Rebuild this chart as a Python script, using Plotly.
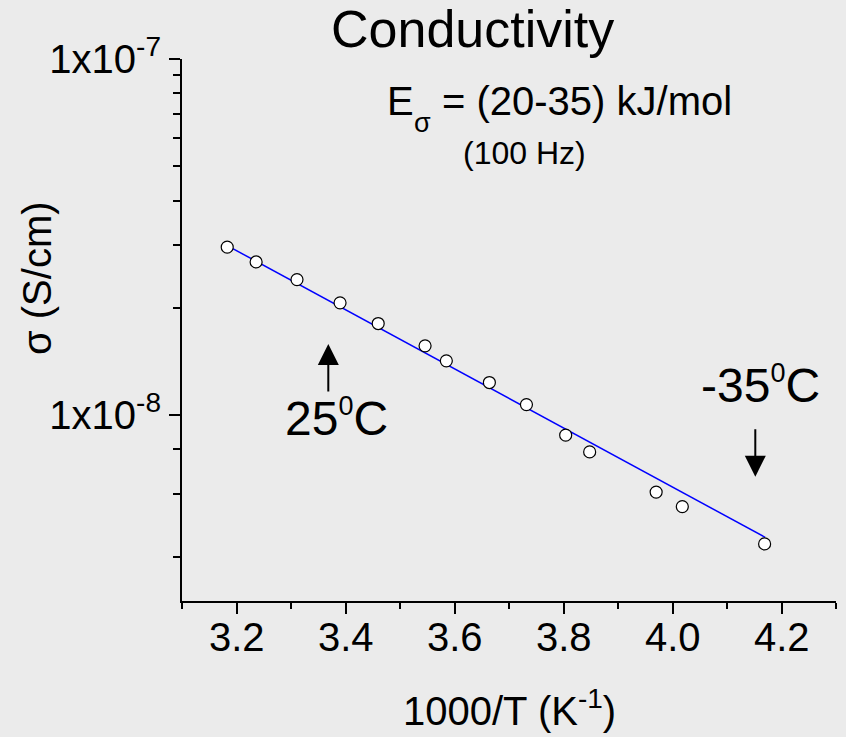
import plotly.graph_objects as go

# Measured conductivity (100 Hz) versus inverse temperature
inv_T = [3.183, 3.236, 3.311, 3.390, 3.460, 3.546, 3.585, 3.664,
         3.732, 3.804, 3.848, 3.970, 4.018, 4.169]
sigma = [2.96e-8, 2.69e-8, 2.40e-8, 2.065e-8, 1.806e-8, 1.563e-8, 1.419e-8,
         1.233e-8, 1.069e-8, 8.77e-9, 7.87e-9, 6.07e-9, 5.525e-9, 4.34e-9]

# Arrhenius fit line (end points)
fit_x = [3.183, 4.170]
fit_y = [2.99e-8, 4.53e-9]

x_ticks = [3.2, 3.4, 3.6, 3.8, 4.0, 4.2]
x_ticklabels = ["3.2", "3.4", "3.6", "3.8", "4.0", "4.2"]
x_minor = [3.1, 3.3, 3.5, 3.7, 3.9, 4.1, 4.3]
y_ticks = [1e-8, 1e-7]
y_ticklabels = ["1x10<sup>-8</sup>", "1x10<sup>-7</sup>"]
y_minor = [4e-9, 6e-9, 8e-9, 2e-8, 3e-8, 4e-8, 5e-8, 6e-8, 7e-8, 8e-8, 9e-8]

FONT = "Arial, 'Liberation Sans', sans-serif"
BG = "#ebebeb"
W, H = 846, 737
L, R, T, B = 182, 836, 59, 601


def px(xpix):
    return (xpix - L) / (R - L)


def py(ypix):
    return (B - ypix) / (B - T)


fig = go.Figure()
fig.add_trace(go.Scatter(x=fit_x, y=fit_y, mode="lines",
                         line=dict(color="#0000ff", width=1.5),
                         hoverinfo="skip"))
fig.add_trace(go.Scatter(x=inv_T, y=sigma, mode="markers",
                         marker=dict(symbol="circle", size=12, color="white",
                                     line=dict(color="black", width=1.2))))

axis_common = dict(showline=True, linecolor="black", linewidth=2,
                   ticks="outside", tickcolor="black", tickwidth=1.5, ticklen=11,
                   showgrid=False, zeroline=False, mirror=False,
                   tickfont=dict(family=FONT, size=40, color="black"))

# x tick labels are placed as annotations (closer to the axis than the default)
fig.update_xaxes(range=[3.1, 4.3], tickmode="array", tickvals=x_ticks,
                 showticklabels=False,
                 minor=dict(tickmode="array", tickvals=x_minor, ticks="outside",
                            ticklen=6, tickwidth=1.5, tickcolor="black",
                            showgrid=False),
                 **axis_common)
fig.update_yaxes(type="log", range=[-8.5229, -7], tickmode="array",
                 tickvals=y_ticks, ticktext=y_ticklabels,
                 minor=dict(tickmode="array", tickvals=y_minor, ticks="outside",
                            ticklen=7, tickwidth=1.5, tickcolor="black",
                            showgrid=False),
                 **axis_common)

for xv, lab in zip(x_ticks, x_ticklabels):
    fig.add_annotation(text=lab, x=xv, xref="x", y=py(636.5), yref="paper",
                       xanchor="center", yanchor="middle", showarrow=False,
                       font=dict(family=FONT, size=40, color="black"))

deg = "<sup><span style='font-size:27px'>0</span></sup>"
annotations = [
    dict(text="Conductivity", x=px(472), y=py(28.7), xanchor="center",
         yanchor="middle", font=dict(size=52)),
    dict(text="E", x=px(385), y=py(101), xanchor="left",
         yanchor="middle", font=dict(size=40)),
    dict(text="σ", x=px(422.5), y=py(123), xanchor="center",
         yanchor="middle", font=dict(size=27)),
    dict(text="= (20-35) kJ/mol", x=px(439.5), y=py(101), xanchor="left",
         yanchor="middle", font=dict(size=40)),
    dict(text="(100 Hz)", x=px(524), y=py(153), xanchor="center",
         yanchor="middle", font=dict(size=32)),
    dict(text="25" + deg + "C", x=px(336), y=py(447), xanchor="center",
         yanchor="bottom", font=dict(size=48)),
    dict(text="-35" + deg + "C", x=px(760.5), y=py(414), xanchor="center",
         yanchor="bottom", font=dict(size=48)),
    dict(text="1000/T (K<sup>-1</sup>)", x=px(509), y=py(735), xanchor="center",
         yanchor="bottom", font=dict(size=40)),
    dict(text="σ (S/cm)", x=px(37), y=py(278), xanchor="center",
         yanchor="middle", textangle=-90, font=dict(size=40)),
]
for a in annotations:
    a.update(xref="paper", yref="paper", showarrow=False)
    a["font"].update(family=FONT, color="black")
    fig.add_annotation(**a)

# temperature marker arrows
fig.add_annotation(x=px(328.3), y=py(344), xref="paper", yref="paper",
                   ax=0, ay=49, text="", showarrow=True, arrowhead=2,
                   arrowsize=2.1, arrowwidth=2, arrowcolor="black")
fig.add_annotation(x=px(755.3), y=py(476.7), xref="paper", yref="paper",
                   ax=0, ay=-49, text="", showarrow=True, arrowhead=2,
                   arrowsize=2.1, arrowwidth=2, arrowcolor="black")

fig.update_layout(width=W, height=H, showlegend=False,
                  margin=dict(l=L, r=W - R, t=T, b=H - B, pad=0),
                  paper_bgcolor=BG, plot_bgcolor=BG,
                  font=dict(family=FONT, color="black"))

fig.write_html("out.html", config={"displayModeBar": False})
